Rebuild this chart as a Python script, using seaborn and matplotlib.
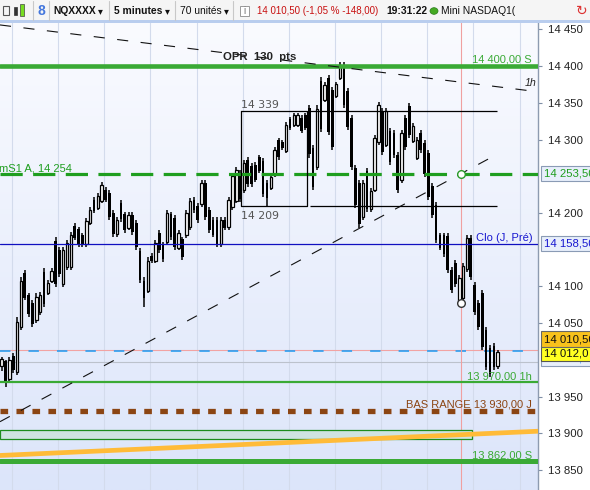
import numpy as np
import matplotlib
matplotlib.use("Agg")
import matplotlib.pyplot as plt
import matplotlib.transforms as mtransforms
from matplotlib.patches import Rectangle, Circle
import seaborn as sns

# -------------------------------
# Data: 5 minute candles
# -------------------------------
opens = [13992, 13998, 13974, 14005, 13984, 14045, 14118, 14088, 14078, 14054,
         14065, 14120, 14091, 14108, 14162, 14150, 14104, 14126, 14127, 14183,
         14178, 14170, 14158, 14187, 14218, 14207, 14216, 14232, 14227, 14200,
         14171, 14214, 14198, 14180, 14197, 14186, 14148, 14108, 14094, 14142,
         14135, 14173, 14157, 14160, 14198, 14193, 14153, 14164, 14170, 14181,
         14218, 14210, 14212, 14241, 14204, 14190, 14190, 14158, 14191, 14181,
         14208, 14217, 14255, 14231, 14272, 14264, 14266, 14276, 14271, 14241,
         14234, 14252, 14299, 14297, 14285, 14328, 14320, 14320, 14330, 14333,
         14343, 14288, 14262, 14380, 14354, 14384, 14367, 14359, 14384, 14401,
         14366, 14329, 14261, 14241, 14194, 14257, 14205, 14232, 14296, 14339,
         14293, 14312, 14309, 14279, 14245, 14329, 14346, 14298, 14275, 14309,
         14295, 14282, 14237, 14211, 14170, 14170, 14169, 14122, 14132, 14080,
         14085, 14124, 14166, 14102, 14077, 14091, 14041, 14016, 14019, 13992]
highs = [14004, 14000, 14004, 14009, 14058, 14113, 14122, 14091, 14081, 14091,
         14092, 14125, 14109, 14125, 14167, 14154, 14154, 14163, 14174, 14186,
         14181, 14173, 14193, 14208, 14222, 14227, 14242, 14235, 14231, 14204,
         14194, 14218, 14201, 14201, 14201, 14190, 14152, 14113, 14140, 14145,
         14163, 14177, 14160, 14204, 14201, 14197, 14177, 14167, 14204, 14220,
         14222, 14213, 14245, 14245, 14208, 14194, 14194, 14194, 14194, 14222,
         14254, 14263, 14258, 14272, 14276, 14268, 14269, 14279, 14275, 14245,
         14252, 14290, 14302, 14299, 14324, 14331, 14336, 14336, 14333, 14336,
         14347, 14293, 14347, 14385, 14378, 14388, 14371, 14378, 14405, 14405,
         14370, 14333, 14265, 14245, 14245, 14261, 14234, 14306, 14351, 14343,
         14343, 14316, 14313, 14283, 14313, 14333, 14350, 14322, 14303, 14313,
         14299, 14286, 14241, 14215, 14173, 14173, 14173, 14126, 14136, 14116,
         14132, 14170, 14170, 14106, 14081, 14095, 14045, 14020, 14023, 14013]
lows = [13985, 13963, 13970, 13982, 13979, 14041, 14081, 14058, 14045, 14050,
        14061, 14072, 14088, 14105, 14099, 14113, 14099, 14122, 14122, 14163,
        14154, 14154, 14154, 14184, 14200, 14204, 14213, 14215, 14190, 14167,
        14167, 14188, 14173, 14177, 14170, 14150, 14105, 14072, 14091, 14132,
        14132, 14145, 14133, 14156, 14163, 14150, 14150, 14136, 14166, 14177,
        14200, 14186, 14208, 14190, 14173, 14167, 14154, 14154, 14177, 14177,
        14204, 14213, 14215, 14227, 14235, 14235, 14242, 14254, 14222, 14209,
        14231, 14249, 14272, 14286, 14282, 14313, 14317, 14317, 14309, 14313,
        14275, 14231, 14258, 14310, 14351, 14306, 14286, 14356, 14381, 14343,
        14313, 14258, 14207, 14180, 14190, 14201, 14201, 14228, 14293, 14279,
        14290, 14265, 14275, 14227, 14241, 14286, 14302, 14295, 14272, 14282,
        14249, 14218, 14193, 14159, 14150, 14140, 14118, 14091, 14099, 14077,
        14081, 14120, 14109, 14061, 14041, 14013, 13986, 13977, 13986, 13988]
closes = [14001, 13970, 14000, 13986, 14052, 14108, 14085, 14062, 14049, 14086,
          14088, 14076, 14105, 14121, 14104, 14117, 14149, 14159, 14170, 14166,
          14157, 14157, 14189, 14204, 14203, 14223, 14238, 14218, 14194, 14171,
          14190, 14192, 14177, 14197, 14174, 14154, 14109, 14085, 14135, 14135,
          14159, 14149, 14137, 14200, 14167, 14154, 14173, 14140, 14200, 14216,
          14204, 14190, 14241, 14194, 14177, 14170, 14158, 14190, 14180, 14218,
          14250, 14259, 14219, 14268, 14239, 14239, 14245, 14257, 14226, 14220,
          14249, 14286, 14276, 14288, 14320, 14316, 14333, 14333, 14312, 14316,
          14280, 14236, 14342, 14315, 14374, 14310, 14290, 14375, 14402, 14347,
          14317, 14262, 14211, 14185, 14241, 14205, 14230, 14302, 14347, 14283,
          14339, 14269, 14279, 14231, 14309, 14290, 14306, 14318, 14299, 14286,
          14253, 14222, 14197, 14163, 14153, 14144, 14122, 14095, 14103, 14112,
          14128, 14166, 14113, 14065, 14045, 14017, 13990, 13981, 13990, 14010.5]

# horizontal levels
level_s_high = 14400.0
level_ms1 = 14253.5
level_clo = 14158.5
level_last = 14012.0
level_grey = 13997.0
level_1h = 13970.0
level_bas_range = 13930.0
level_s_low = 13862.0
opr_high, opr_low = 14339, 14209
zone_top, zone_bottom = 13905, 13892

# trend lines (candle index, price)
trend_down_x, trend_down_y = [-0.44, 139.5], [14456, 14365]
trend_up_x, trend_up_y = [-0.44, 128.5], [13916, 14279]
orange_x, orange_y = [-0.44, 139.5], [13870, 13903]

yticks = [13850, 13900, 13950, 14050, 14100, 14200, 14300, 14350, 14400, 14450]
hour_marks = [2.7, 14.7, 26.7, 38.7, 50.7, 62.7, 74.7, 86.7, 98.7, 110.7, 122.7, 134.7]
signal_idx = 119.4

# -------------------------------
# Style
# -------------------------------
sns.set_theme(style="white")
plt.rcParams['font.family'] = ['Liberation Sans', 'DejaVu Sans']
plt.rcParams['lines.scale_dashes'] = False

W, H = 590, 490
GREEN = '#3aaa35'
XMIN, XMAX = -0.44, 139.48
YMIN, YMAX = 13823, 14460


def fx(px):
    return px / W


def fy(py):
    return 1 - py / H


def dx(px):
    return (px - 1.7) / 3.845


def dy(py):
    return YMAX - (py - 22) * (YMAX - YMIN) / 468


fig = plt.figure(figsize=(W / 100, H / 100), dpi=100)
fig.patch.set_facecolor('white')
ax = fig.add_axes([0, 0, 538 / W, 468 / H])

# background gradient
g = np.linspace(0, 1, 256).reshape(-1, 1, 1)
top = np.array([250, 251, 255]) / 255
bot = np.array([220, 229, 250]) / 255
ax.imshow(top * (1 - g) + bot * g, extent=[XMIN, XMAX, YMIN, YMAX],
          aspect='auto', origin='upper', zorder=0)

for m in hour_marks:
    ax.axvline(m, color='#d3dbec', lw=0.8, zorder=1)

# -------------------------------
# Levels and drawings
# -------------------------------
ax.axhline(level_s_high, color=GREEN, lw=3.3, zorder=4)
ax.axhline(level_1h, color=GREEN, lw=1.6, zorder=4)
ax.axhline(level_s_low, color=GREEN, lw=3.6, zorder=4)
ax.axhline(level_ms1, color='#1f9e1f', lw=2.3, ls=(0, (16, 7.5)), zorder=4)
ax.axhline(level_clo, color='#1010c0', lw=0.9, zorder=4)
ax.axhline(level_bas_range, color='#8b4513', lw=3.8, ls=(0, (5.5, 6)),
           solid_capstyle='butt', dash_capstyle='butt', zorder=4)
ax.axhline(level_last + 1.2, color='#f2a3a3', lw=0.8, zorder=2)
ax.axhline(level_last, color='#2b9ef0', lw=1.2, ls=(0, (7.5, 13)), zorder=2)
ax.axhline(level_grey, color='#bcc2cc', lw=0.8, zorder=2)
ax.axvline(signal_idx, color='#f0a0a0', lw=0.8, zorder=2)

# green zone
ax.add_patch(Rectangle((XMIN, zone_bottom), dx(472) - XMIN, zone_top - zone_bottom,
                       fc='#cfe3e1', ec='#1d8c1d', lw=0.9, zorder=2))
sns.lineplot(x=orange_x, y=orange_y, ax=ax, color='#ffbb38', lw=3.4, zorder=3)

ax.plot(trend_down_x, trend_down_y, color='#111111', lw=0.8, ls=(0, (8, 9)), zorder=4)
ax.plot(trend_up_x, trend_up_y, color='#111111', lw=0.8, ls=(0, (8, 9)), zorder=4)

# OPR boxes
ax.plot([dx(241), dx(307), dx(307), dx(241), dx(241)],
        [opr_high, opr_high, opr_low, opr_low, opr_high], color='black', lw=0.9, zorder=4)
ax.hlines([opr_high, opr_low], dx(310), dx(497), color='black', lw=0.9, zorder=4)

# -------------------------------
# Candles
# -------------------------------
o = np.array(opens)
c = np.array(closes)
idx = np.arange(len(o))
up = c >= o
ax.vlines(idx, lows, highs, color='black', lw=1.1, zorder=3)
ax.bar(idx[~up], (o - c)[~up], bottom=c[~up], width=0.68, color='black',
       lw=0, zorder=3)
ax.bar(idx[up], (c - o)[up], bottom=o[up], width=0.66, color='white',
       edgecolor='black', lw=0.9, zorder=3)

ax.plot([signal_idx], [level_ms1], marker='o', ms=5.5, mfc='white', mec='#2a9a2a',
        mew=1.0, zorder=6)
ax.plot([signal_idx], [14078], marker='o', ms=5.5, mfc='white', mec='#333333',
        mew=1.0, zorder=6)

# -------------------------------
# Labels inside chart
# -------------------------------
ax.text(dx(532), dy(59), "14 400,00 S", ha='right', va='center', color=GREEN, fontsize=8, zorder=7)
ax.text(dx(531), dy(83), "1h", ha='center', va='center', color='#222', fontsize=7.7,
        style='italic', zorder=7)
ax.text(dx(260), dy(57), "OPR  130  pts", ha='center', va='center', color='#222',
        fontsize=8.2, fontweight='bold', zorder=7)
ax.text(dx(241), dy(105), "14 339", ha='left', va='center', color='#555555',
        fontsize=7.8, family='DejaVu Sans', zorder=7)
ax.text(dx(241), dy(216), "14 209", ha='left', va='center', color='#555555',
        fontsize=7.8, family='DejaVu Sans', zorder=7)
ax.text(dx(-1), dy(168), "mS1 A, 14 254", ha='left', va='center', color='#1f9e1f',
        fontsize=8, zorder=7)
ax.text(dx(476), dy(238), "Clo (J, Pré)", ha='left', va='center', color='#1818d0',
        fontsize=8, zorder=7)
ax.text(dx(532), dy(376), "13 970,00 1h", ha='right', va='center', color=GREEN, fontsize=8, zorder=7)
ax.text(dx(532), dy(404.5), "BAS RANGE 13 930,00 J", ha='right', va='center',
        color='#8b4513', fontsize=8, zorder=7)
ax.text(dx(532), dy(455), "13 862,00 S", ha='right', va='center', color=GREEN, fontsize=8, zorder=7)

# -------------------------------
# Axes
# -------------------------------
ax.set_xlim(XMIN, XMAX)
ax.set_ylim(YMIN, YMAX)
ax.set_xticks([])
ax.yaxis.tick_right()
ax.set_yticks(yticks)
ax.set_yticklabels([f"{v:,}".replace(",", " ") for v in yticks])
ax.tick_params(axis='y', direction='out', length=3, width=0.8, color='#7f8fa6',
               pad=4, labelsize=8.2, labelcolor='#222222')
for side in ['left', 'top', 'bottom']:
    ax.spines[side].set_visible(False)
ax.spines['right'].set_color('#8d9bb0')
ax.spines['right'].set_linewidth(1)

blend = mtransforms.blended_transform_factory(ax.transAxes, ax.transData)
xl = 544 / 538


def axis_box(y, text, fc, tc, ec='#8a9bb5'):
    ax.text(xl, y, text, transform=blend, ha='left', va='center', fontsize=8.2,
            color=tc, clip_on=False, zorder=10,
            bbox=dict(boxstyle='square,pad=0.22', fc=fc, ec=ec, lw=0.8))


axis_box(level_ms1, "14 253,50", '#e8effb', '#1f9e1f')
axis_box(level_clo, "14 158,50", '#e8effb', '#1818d0')
axis_box(dy(358.5), "14 010,50", '#e8effb', '#3399ff')
axis_box(dy(353.5), "14 012,0", '#ffff22', '#111111', ec='#555555')
axis_box(dy(339), "14 010,50", '#f8c21c', '#111111', ec='#666666')

# -------------------------------
# Toolbar
# -------------------------------
fig.add_artist(Rectangle((0, fy(21)), 1, 21 / H, transform=fig.transFigure,
                         fc='#f5f5f5', ec='none', zorder=20))
fig.add_artist(Rectangle((0, fy(23)), 1, 2.5 / H, transform=fig.transFigure,
                         fc='#b9cdee', ec='none', zorder=20))
for sx in [33, 49, 109, 175, 233]:
    fig.add_artist(plt.Line2D([fx(sx), fx(sx)], [fy(1), fy(20)], transform=fig.transFigure,
                              color='#c8c8c8', lw=0.8, zorder=21))

# icons
fig.add_artist(Rectangle((fx(3), fy(15)), 6 / W, 9 / H, transform=fig.transFigure,
                         fc='none', ec='#555', lw=0.8, zorder=21))
fig.add_artist(Rectangle((fx(14), fy(15)), 3 / W, 8 / H, transform=fig.transFigure,
                         fc='#333', ec='#333', lw=0.5, zorder=21))
fig.add_artist(Rectangle((fx(20), fy(16)), 4 / W, 12 / H, transform=fig.transFigure,
                         fc='#77dd22', ec='#444', lw=0.5, zorder=21))
fig.text(fx(41), fy(11), "8", ha='center', va='center', color='#4477dd', fontsize=10,
         fontweight='bold', zorder=22)
fig.add_artist(Rectangle((fx(240), fy(16)), 9 / W, 10 / H, transform=fig.transFigure,
                         fc='white', ec='#999', lw=0.7, zorder=21))
fig.text(fx(244.5), fy(11), "i", ha='center', va='center', color='#777', fontsize=7, zorder=22)
fig.add_artist(Circle((fx(434), fy(11)), 4 / W, transform=fig.transFigure,
                      fc='#44aa22', ec='#2a7a1a', lw=0.5, zorder=21))

fig.text(fx(53), fy(11), "NQXXXX", ha='left', va='center', fontsize=7.4,
         fontweight='bold', color='#111', zorder=22)
fig.text(fx(100), fy(11.5), "▾", ha='center', va='center', fontsize=7, color='#111', zorder=22)
fig.text(fx(114), fy(11), "5 minutes", ha='left', va='center', fontsize=7.4,
         fontweight='bold', color='#111', zorder=22)
fig.text(fx(167), fy(11.5), "▾", ha='center', va='center', fontsize=7, color='#111', zorder=22)
fig.text(fx(180), fy(11), "70 unités", ha='left', va='center', fontsize=7.4,
         color='#111', zorder=22)
fig.text(fx(226), fy(11.5), "▾", ha='center', va='center', fontsize=7, color='#111', zorder=22)
fig.text(fx(257), fy(11), "14 010,50 (-1,05 % -148,00)", ha='left', va='center',
         fontsize=7.0, color='#c81010', zorder=22)
fig.text(fx(386), fy(11), "19:31:22", ha='left', va='center', fontsize=7.4,
         fontweight='bold', color='#111', zorder=22)
fig.text(fx(441), fy(11), "Mini NASDAQ1(", ha='left', va='center', fontsize=7.4,
         color='#111', zorder=22)
fig.text(fx(582), fy(11), "↻", ha='center', va='center', fontsize=10, color='#dd3333',
         family='DejaVu Sans', zorder=22)

fig.savefig("out.png", dpi=100)
